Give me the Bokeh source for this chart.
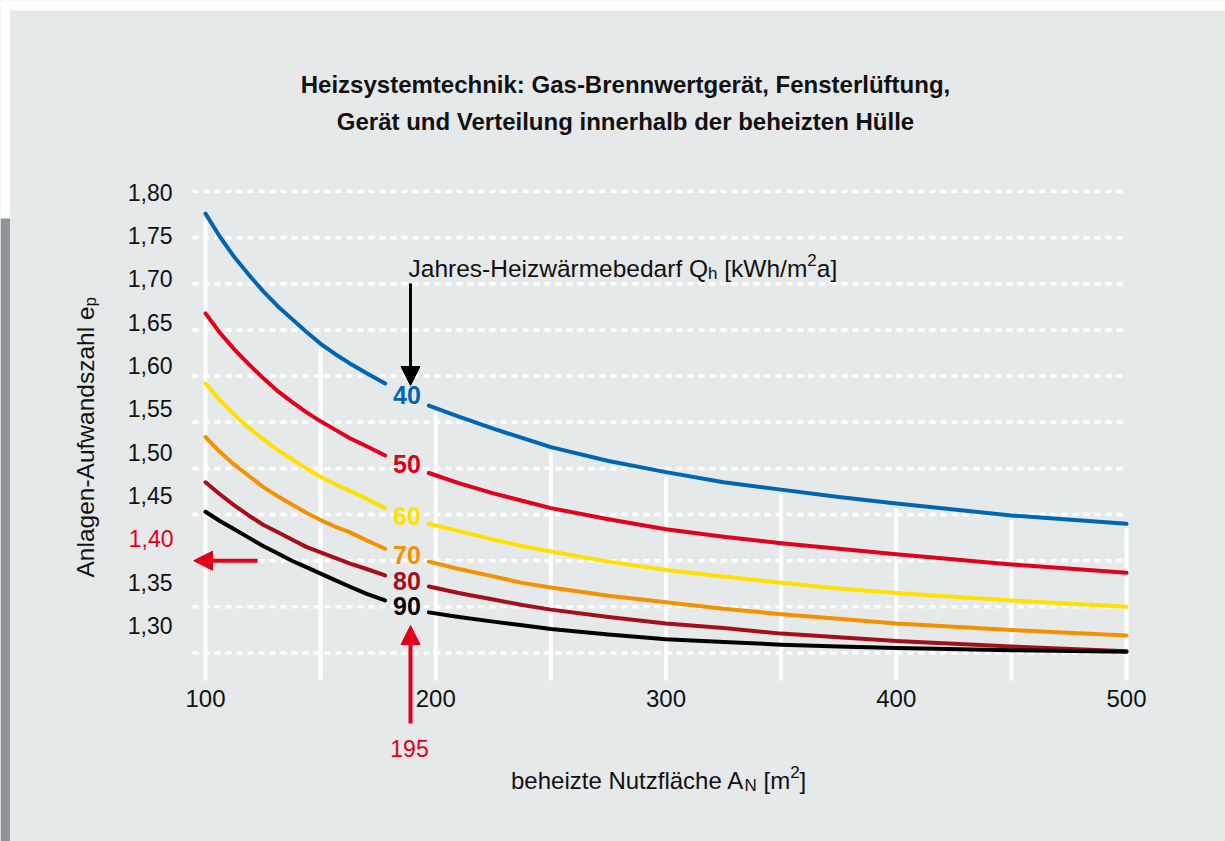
import numpy as np
from bokeh.plotting import figure
from bokeh.models import (ColumnDataSource, Range1d, LinearAxis, FixedTicker,
                          CustomJSTickFormatter, Label, Arrow, NormalHead)
from bokeh.core.properties import value
from bokeh.embed import file_html
from bokeh.resources import INLINE

FONT = "Liberation Sans"
BG = "#e6e9ea"
RED = "#e3001b"
INK = "#111111"

# ---------------- data ----------------
title_lines = ["Heizsystemtechnik: Gas-Brennwertgerät, Fensterlüftung,",
               "Gerät und Verteilung innerhalb der beheizten Hülle"]
x_ticks = [100, 200, 300, 400, 500]
x_grid = [100, 150, 200, 250, 300, 350, 400, 450, 500]
y_ticks = [1.30, 1.35, 1.40, 1.45, 1.50, 1.55, 1.60, 1.65, 1.70, 1.75, 1.80]

# beheizte Nutzfläche A_N [m²]
area = [100, 106.25, 112.5, 118.75, 125, 131.25, 137.5, 143.75, 150, 156.25, 162.5, 170, 178,
        197, 210, 225, 237.5, 250, 275, 300, 325, 350, 375, 400, 450, 500]
# Anlagen-Aufwandszahl e_p for each Jahres-Heizwärmebedarf Q_h
q_labels = ["40", "50", "60", "70", "80", "90"]
ep_40 = [1.776, 1.751, 1.729, 1.710, 1.692, 1.676, 1.662, 1.648, 1.635, 1.624, 1.614, 1.603, 1.592,
         1.568, 1.556, 1.543, 1.533, 1.523, 1.508, 1.496, 1.485, 1.477, 1.469, 1.462, 1.449, 1.440]
ep_50 = [1.668, 1.647, 1.629, 1.613, 1.598, 1.584, 1.572, 1.561, 1.551, 1.542, 1.533, 1.524, 1.514,
         1.495, 1.484, 1.473, 1.465, 1.457, 1.445, 1.434, 1.426, 1.419, 1.413, 1.407, 1.396, 1.387]
ep_60 = [1.592, 1.574, 1.558, 1.544, 1.532, 1.520, 1.510, 1.500, 1.491, 1.483, 1.476, 1.467, 1.457,
         1.440, 1.432, 1.423, 1.416, 1.410, 1.399, 1.390, 1.383, 1.376, 1.370, 1.365, 1.357, 1.350]
ep_70 = [1.534, 1.518, 1.504, 1.492, 1.480, 1.470, 1.461, 1.452, 1.444, 1.437, 1.431, 1.422, 1.413,
         1.399, 1.391, 1.383, 1.376, 1.371, 1.362, 1.355, 1.348, 1.342, 1.337, 1.332, 1.325, 1.319]
ep_80 = [1.485, 1.472, 1.460, 1.449, 1.439, 1.431, 1.423, 1.415, 1.409, 1.403, 1.397, 1.391, 1.384,
         1.372, 1.365, 1.358, 1.352, 1.347, 1.339, 1.332, 1.327, 1.321, 1.317, 1.313, 1.307, 1.302]
ep_90 = [1.453, 1.443, 1.434, 1.425, 1.416, 1.408, 1.400, 1.393, 1.386, 1.379, 1.372, 1.364, 1.357,
         1.344, 1.339, 1.334, 1.330, 1.326, 1.320, 1.315, 1.312, 1.309, 1.307, 1.3055, 1.303, 1.3014]
series = [ep_40, ep_50, ep_60, ep_70, ep_80, ep_90]
colors = ["#0066b3", "#e3001b", "#ffe100", "#f39200", "#a50f1c", "#000000"]

example_area = "195"
example_ep = 1.40

# ---------------- layout (page pixels) ----------------
W, H = 1225, 841
AXIS_LEFT_PX, AXIS_BOTTOM_PX = 190.0, 680.0


def px2x(px):
    return 100 + (px - 205.0) * 400.0 / (1126.0 - 205.0)


def py2y(py):          # data scale of curves / gridlines
    return 1.80 - (py - 191.0) * 0.5 / (652.5 - 191.0)


def py2l(py):          # scale on which the printed tick labels sit
    return 1.80 - (py - 191.8) * 0.5 / (625.0 - 191.8)


p = figure(width=W, height=H, output_backend="svg", toolbar_location=None,
           x_range=Range1d(px2x(0), px2x(W)), y_range=Range1d(py2y(H), py2y(0)),
           x_axis_location=None, y_axis_location=None,
           min_border=0)
p.extra_y_ranges = {"lab": Range1d(py2l(H), py2l(0))}
p.background_fill_color = BG
p.border_fill_color = BG
p.outline_line_color = None
for g in p.grid:
    g.visible = False

# page decoration: white top strip, grey side bar
p.quad(left=[px2x(0), px2x(0), px2x(0)], right=[px2x(W), px2x(9.5), px2x(9.5)],
       top=[py2y(0), py2y(10), py2y(218)], bottom=[py2y(10), py2y(218), py2y(H)],
       fill_color=["white", "white", "#8e959a"], line_color=None)

# x axis
xa = LinearAxis(ticker=FixedTicker(ticks=x_ticks), fixed_location=py2y(AXIS_BOTTOM_PX))
xa.axis_line_color = None
xa.major_tick_line_color = None
xa.minor_tick_line_color = None
xa.major_label_text_font = FONT
xa.major_label_text_font_size = "24px"
xa.major_label_text_color = INK
xa.major_label_standoff = 3
p.add_layout(xa, "below")

# y axis (tick labels)
ya = LinearAxis(y_range_name="lab", ticker=FixedTicker(ticks=y_ticks),
                fixed_location=px2x(AXIS_LEFT_PX),
                formatter=CustomJSTickFormatter(code="""
                    if (Math.abs(tick - 1.40) < 1e-6) { return ''; }
                    return tick.toFixed(2).replace('.', ',');"""))
ya.axis_line_color = None
ya.major_tick_line_color = None
ya.minor_tick_line_color = None
ya.major_label_text_font = FONT
ya.major_label_text_font_size = "23px"
ya.major_label_text_color = INK
ya.major_label_standoff = 12
p.add_layout(ya, "left")

# grid: white vertical lines up to the top curve, dashed horizontal lines
grid_top = np.interp(x_grid, area, ep_40) - 0.005
p.segment(x0=x_grid, x1=x_grid, y0=[py2y(AXIS_BOTTOM_PX)] * len(x_grid), y1=grid_top,
          line_color="white", line_width=4)
p.segment(x0=[px2x(192)] * len(y_ticks), x1=[500] * len(y_ticks), y0=y_ticks, y1=y_ticks,
          line_color="white", line_width=3.5, line_dash="6 5")

# curves, interrupted where the label sits
gap_i = area.index(197)
gap_x = (area[gap_i - 1] + area[gap_i]) / 2
for ys, col in zip(series, colors):
    xs = np.array(area[:gap_i] + [gap_x] + area[gap_i:], dtype=float)
    yv = np.array(ys[:gap_i] + [np.nan] + ys[gap_i:], dtype=float)
    p.line(xs, yv, line_color=col, line_width=4, line_cap="round", line_join="round")

lab_src = ColumnDataSource(dict(
    x=[gap_x] * len(series),
    y=[(s[gap_i - 1] + s[gap_i]) / 2 for s in series],
    t=q_labels, c=colors))
p.text(x="x", y="y", text="t", text_color="c", source=lab_src,
       text_font=value(FONT), text_font_style="bold", text_font_size=value("25px"),
       text_align="center", text_baseline="middle")

# arrows
arrow_x = px2x(410)
p.add_layout(Arrow(end=NormalHead(size=19, fill_color="black", line_color="black"),
                   x_start=arrow_x, y_start=py2y(283), x_end=arrow_x, y_end=py2y(385),
                   line_color="black", line_width=3))
p.add_layout(Arrow(end=NormalHead(size=19, fill_color=RED, line_color=RED),
                   x_start=arrow_x, y_start=py2y(723), x_end=arrow_x, y_end=py2y(625),
                   line_color=RED, line_width=4))
p.add_layout(Arrow(end=NormalHead(size=19, fill_color=RED, line_color=RED),
                   x_start=px2x(257), y_start=example_ep, x_end=px2x(193), y_end=example_ep,
                   line_color=RED, line_width=4))


# texts
def txt(s, px, py, size, color=INK, align="left", baseline="alphabetic",
        bold=False, angle=0.0, yl=None):
    if yl is not None:
        kw = dict(y=yl, y_range_name="lab")
    else:
        kw = dict(y=py2y(py))
    p.add_layout(Label(x=px2x(px), text=s, text_font=FONT, text_font_size=f"{size}px",
                       text_color=color, text_align=align, text_baseline=baseline,
                       text_font_style="bold" if bold else "normal", angle=angle, **kw))


txt(title_lines[0], 625, 84, 24, align="center", bold=True)
txt(title_lines[1], 625, 121, 24, align="center", bold=True)

txt("1,40", 190 - 17, 0, 23, color=RED, align="right", baseline="middle", yl=example_ep)
txt(example_area, 409, 748, 23, color=RED, align="center")

# Jahres-Heizwärmebedarf Q_h [kWh/m²a]
txt("Jahres-Heizwärmebedarf Q", 408, 268, 24.5)
txt("h", 707.5, 273, 17)
txt("[kWh/m", 723.8, 268, 24.5)
txt("2", 806.8, 259, 17)
txt("a]", 816.3, 268, 24.5)

# beheizte Nutzfläche A_N [m²]
txt("beheizte Nutzfläche A", 510.5, 780, 24)
txt("N", 744.0, 785, 17)
txt("[m", 763.0, 780, 24)
txt("2", 789.7, 771, 17)
txt("]", 799.1, 780, 24)

# Anlagen-Aufwandszahl e_p (rotated)
txt("Anlagen-Aufwandszahl e", 85, 577, 24.5, angle=np.pi / 2)
txt("p", 90, 577 - 11.061 * 24.5, 17, angle=np.pi / 2)

open("out.html", "w").write(file_html(p, INLINE))
